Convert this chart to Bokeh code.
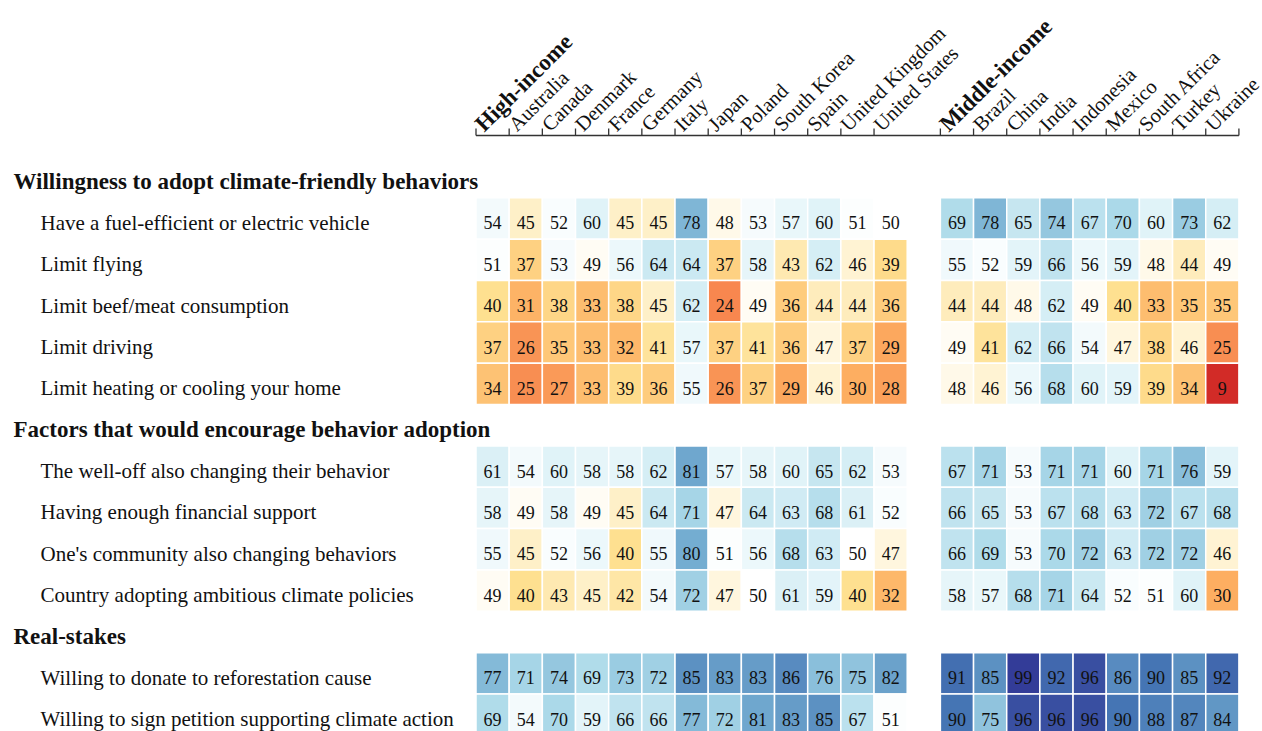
import numpy as np
from bokeh.plotting import figure
from bokeh.models import Range1d, ColumnDataSource, LinearColorMapper
from bokeh.transform import transform
from bokeh.core.properties import value
from bokeh.embed import file_html
from bokeh.resources import INLINE

# ---------------- data ----------------
high_income = ["High-income", "Australia", "Canada", "Denmark", "France", "Germany",
               "Italy", "Japan", "Poland", "South Korea", "Spain", "United Kingdom",
               "United States"]
middle_income = ["Middle-income", "Brazil", "China", "India", "Indonesia", "Mexico",
                 "South Africa", "Turkey", "Ukraine"]

sections = ["Willingness to adopt climate-friendly behaviors",
            "Factors that would encourage behavior adoption",
            "Real-stakes"]
items_behaviors = ["Have a fuel-efficient or electric vehicle", "Limit flying",
                   "Limit beef/meat consumption", "Limit driving",
                   "Limit heating or cooling your home"]
items_factors = ["The well-off also changing their behavior",
                 "Having enough financial support",
                 "One's community also changing behaviors",
                 "Country adopting ambitious climate policies"]
items_stakes = ["Willing to donate to reforestation cause",
                "Willing to sign petition supporting climate action"]

high_values = [
    [54, 45, 52, 60, 45, 45, 78, 48, 53, 57, 60, 51, 50],
    [51, 37, 53, 49, 56, 64, 64, 37, 58, 43, 62, 46, 39],
    [40, 31, 38, 33, 38, 45, 62, 24, 49, 36, 44, 44, 36],
    [37, 26, 35, 33, 32, 41, 57, 37, 41, 36, 47, 37, 29],
    [34, 25, 27, 33, 39, 36, 55, 26, 37, 29, 46, 30, 28],
    [61, 54, 60, 58, 58, 62, 81, 57, 58, 60, 65, 62, 53],
    [58, 49, 58, 49, 45, 64, 71, 47, 64, 63, 68, 61, 52],
    [55, 45, 52, 56, 40, 55, 80, 51, 56, 68, 63, 50, 47],
    [49, 40, 43, 45, 42, 54, 72, 47, 50, 61, 59, 40, 32],
    [77, 71, 74, 69, 73, 72, 85, 83, 83, 86, 76, 75, 82],
    [69, 54, 70, 59, 66, 66, 77, 72, 81, 83, 85, 67, 51],
]
middle_values = [
    [69, 78, 65, 74, 67, 70, 60, 73, 62],
    [55, 52, 59, 66, 56, 59, 48, 44, 49],
    [44, 44, 48, 62, 49, 40, 33, 35, 35],
    [49, 41, 62, 66, 54, 47, 38, 46, 25],
    [48, 46, 56, 68, 60, 59, 39, 34, 9],
    [67, 71, 53, 71, 71, 60, 71, 76, 59],
    [66, 65, 53, 67, 68, 63, 72, 67, 68],
    [66, 69, 53, 70, 72, 63, 72, 72, 46],
    [58, 57, 68, 71, 64, 52, 51, 60, 30],
    [91, 85, 99, 92, 96, 86, 90, 85, 92],
    [90, 75, 96, 96, 96, 90, 88, 87, 84],
]

# ---------------- colour scale (RdYlBu with white centre) ----------------
anchor_pos = [0, 10, 20, 30, 40, 50, 60, 70, 80, 90, 100]
anchor_col = ["#a50026", "#d73027", "#f46d43", "#fdae61", "#fee090", "#ffffff",
              "#e0f3f8", "#abd9e9", "#74add1", "#4575b4", "#313695"]
rgb = np.array([[int(c[i:i + 2], 16) for i in (1, 3, 5)] for c in anchor_col], float)
pal = []
for s in range(101):
    r, g, b = (np.interp(s, anchor_pos, rgb[:, k]) for k in range(3))
    pal.append("#%02x%02x%02x" % (int(round(r)), int(round(g)), int(round(b))))
mapper = LinearColorMapper(palette=pal, low=-0.5, high=100.5)

# ---------------- layout ----------------
W, H = 1262, 731
CW, RH = 33.17, 41.35          # pixel size of a cell
X0, Y0 = 475.5, 155.95         # pixel position of column 0 / row 0
GAP = 1                        # empty columns between groups
TXT_DY = 4.5                   # vertical text offset inside a row

p = figure(width=W, height=H, output_backend="svg", toolbar_location=None,
           x_range=Range1d(-X0 / CW, (W - X0) / CW),
           y_range=Range1d((H - Y0) / RH, -Y0 / RH),
           min_border=0, outline_line_color=None,
           background_fill_color="white", border_fill_color="white")
p.axis.visible = False
p.grid.visible = False

font = value("Liberation Serif")

# row bookkeeping
item_groups = [items_behaviors, items_factors, items_stakes]
header_rows, item_rows, item_names = [], [], []
r = 0
for sec, its in zip(sections, item_groups):
    header_rows.append(r)
    r += 1
    for it in its:
        item_rows.append(r)
        item_names.append(it)
        r += 1

mid_start = len(high_income) + GAP
xs, ys, vs = [], [], []
for k, row in enumerate(item_rows):
    for j, v in enumerate(high_values[k]):
        xs.append(j + 0.5); ys.append(row + 0.5); vs.append(v)
    for j, v in enumerate(middle_values[k]):
        xs.append(mid_start + j + 0.5); ys.append(row + 0.5); vs.append(v)
cells = ColumnDataSource(dict(x=xs, y=ys, v=vs, t=[str(v) for v in vs]))

p.rect(x="x", y="y", width=1, height=1, source=cells,
       fill_color=transform("v", mapper), line_color="white", line_width=1.5)
p.text(x="x", y="y", text="t", source=cells, text_align="center",
       text_baseline="alphabetic", y_offset=TXT_DY, text_font=font,
       text_font_size="18px", text_color="#111111")

# row labels
label_x_item = (40 - X0) / CW
label_x_head = (13 - X0) / CW
p.text(x=[label_x_item] * len(item_rows), y=[rr + 0.5 for rr in item_rows],
       text=item_names, text_align="left", text_baseline="alphabetic",
       y_offset=TXT_DY, text_font=font, text_font_size="21px", text_color="#111111")
p.text(x=[label_x_head] * len(header_rows), y=[rr + 0.5 for rr in header_rows],
       text=sections, text_align="left", text_baseline="alphabetic",
       y_offset=TXT_DY, text_font=font, text_font_size="23px",
       text_font_style="bold", text_color="#111111")

# top axis with rotated labels
axis_y = (135 - Y0) / RH
tick_len = 7 / RH
col_pos_high = list(range(len(high_income)))
col_pos_mid = [mid_start + j for j in range(len(middle_income))]
end_pos = mid_start + len(middle_income)
tick_pos = col_pos_high + col_pos_mid + [end_pos]
p.segment(x0=[0], y0=[axis_y], x1=[end_pos], y1=[axis_y], line_color="#333333",
          line_width=1.5)
p.segment(x0=tick_pos, y0=[axis_y] * len(tick_pos), x1=tick_pos,
          y1=[axis_y - tick_len] * len(tick_pos), line_color="#333333", line_width=1.3)

reg_pos = col_pos_high[1:] + col_pos_mid[1:]
reg_lab = high_income[1:] + middle_income[1:]
bold_pos = [col_pos_high[0], col_pos_mid[0]]
bold_lab = [high_income[0], middle_income[0]]
p.text(x=reg_pos, y=[axis_y] * len(reg_pos), text=reg_lab, angle=np.pi / 4,
       text_align="left", text_baseline="alphabetic", x_offset=3, y_offset=-8,
       text_font=font, text_font_size="20.5px", text_color="#111111")
p.text(x=bold_pos, y=[axis_y] * len(bold_pos), text=bold_lab, angle=np.pi / 4,
       text_align="left", text_baseline="alphabetic", x_offset=3, y_offset=-8,
       text_font=font, text_font_size="23px", text_font_style="bold",
       text_color="#111111")

open("out.html", "w").write(file_html(p, INLINE))
